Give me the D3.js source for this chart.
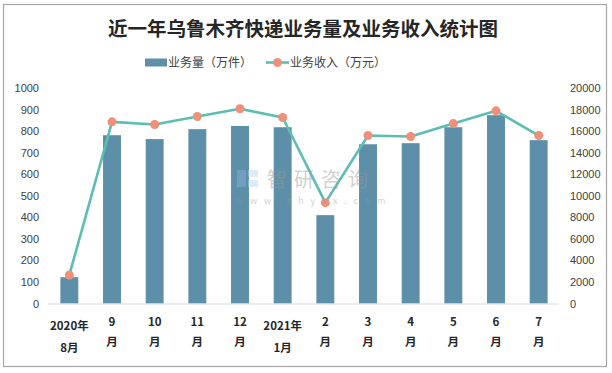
<!DOCTYPE html>
<html lang="zh">
<head>
<meta charset="UTF-8">
<script src="https://cdn.jsdelivr.net/npm/d3@7"></script>
<style>
    body { margin: 0; background: #fff; }
    svg { display: block; font-family: "Noto Sans CJK SC", "Noto Sans", sans-serif; }
</style>
</head>
<body>
<div id="chart"></div>
<script>
    // months (two-line labels)
    const months = ["2020年8月", "9月", "10月", "11月", "12月", "2021年1月", "2月", "3月", "4月", "5月", "6月", "7月"];
    const labelLines = [["2020年", "8月"], ["9", "月"], ["10", "月"], ["11", "月"], ["12", "月"], ["2021年", "1月"],
                        ["2", "月"], ["3", "月"], ["4", "月"], ["5", "月"], ["6", "月"], ["7", "月"]];
    // 业务量 (万件)
    const volume = [122, 781, 763, 809, 824, 818, 410, 739, 744, 818, 874, 758];
    // 业务收入 (万元)
    const revenue = [2650, 16860, 16610, 17350, 18070, 17260, 9360, 15590, 15500, 16700, 17880, 15590];
    const leftTicks = d3.range(0, 1001, 100);
    const rightTicks = d3.range(0, 20001, 2000);

    const W = 612, H = 373;
    const barColor = "#5d90a8", lineColor = "#5bbdb3", dotColor = "#ef917a";

    const svg = d3.select("#chart").append("svg")
        .attr("width", W).attr("height", H);

    // outer border
    svg.append("rect")
        .attr("x", 3.5).attr("y", 4.5).attr("width", 603).attr("height", 362)
        .attr("fill", "#fff").attr("stroke", "#a6a6a6").attr("stroke-width", 1.2);

    // title
    svg.append("text")
        .attr("x", 303).attr("y", 36)
        .attr("text-anchor", "middle")
        .attr("font-size", 19.5).attr("font-weight", "bold").attr("fill", "#262626")
        .text("近一年乌鲁木齐快递业务量及业务收入统计图");

    // scales
    const x = d3.scaleBand().domain(months).range([48, 560]).paddingInner(0.58).paddingOuter(0.29);
    const yL = d3.scaleLinear().domain([0, 1000]).range([303.5, 88]);
    const yR = d3.scaleLinear().domain([0, 20000]).range([303.5, 88]);

    // left axis
    const axL = svg.append("g").attr("transform", "translate(39,0)")
        .call(d3.axisLeft(yL).tickValues(leftTicks).tickFormat(d3.format("d")).tickSize(0).tickPadding(0));
    axL.select(".domain").remove();
    axL.selectAll("text").attr("font-family", "Liberation Sans, Arial, sans-serif")
        .attr("font-size", 11).attr("fill", "#404040");

    // right axis
    const axR = svg.append("g").attr("transform", "translate(570,0)")
        .call(d3.axisRight(yR).tickValues(rightTicks).tickFormat(d3.format("d")).tickSize(0).tickPadding(0));
    axR.select(".domain").remove();
    axR.selectAll("text").attr("font-family", "Liberation Sans, Arial, sans-serif")
        .attr("font-size", 11).attr("fill", "#404040");

    // bars
    svg.selectAll("rect.bar").data(volume).enter().append("rect")
        .attr("class", "bar")
        .attr("x", (d, i) => x(months[i]))
        .attr("width", x.bandwidth())
        .attr("y", d => yL(d))
        .attr("height", d => yL(0) - yL(d))
        .attr("fill", barColor);

    // baseline
    svg.append("line")
        .attr("x1", 48).attr("x2", 559).attr("y1", yL(0) + 0.5).attr("y2", yL(0) + 0.5)
        .attr("stroke", "#d9d9d9").attr("stroke-width", 1);

    // revenue line
    const cx = (d, i) => x(months[i]) + x.bandwidth() / 2;
    const line = d3.line().x(cx).y(d => yR(d));
    svg.append("path").datum(revenue)
        .attr("d", line)
        .attr("fill", "none").attr("stroke", lineColor).attr("stroke-width", 2.6)
        .attr("stroke-linejoin", "round");
    svg.selectAll("circle.dot").data(revenue).enter().append("circle")
        .attr("class", "dot")
        .attr("cx", cx).attr("cy", d => yR(d)).attr("r", 4.5)
        .attr("fill", dotColor);

    // watermark (on top of the marks)
    const wm = svg.append("g").attr("opacity", 0.45);
    wm.append("rect").attr("x", 237).attr("y", 170).attr("width", 9).attr("height", 17).attr("fill", "#8fb3d9");
    wm.append("rect").attr("x", 248).attr("y", 170).attr("width", 10).attr("height", 7).attr("fill", "#b8d6f0");
    wm.append("rect").attr("x", 248).attr("y", 180).attr("width", 10).attr("height", 7).attr("fill", "#b8d6f0");
    wm.append("text").attr("x", 267).attr("y", 187).attr("font-size", 20).attr("fill", "#9a9a9a")
        .attr("letter-spacing", 7).text("智研咨询");
    wm.append("text").attr("x", 236).attr("y", 204).attr("font-size", 9).attr("fill", "#9a9a9a")
        .attr("letter-spacing", 6.8).text("www.chyxx.com");

    // x labels
    const xl = svg.append("g").selectAll("g").data(labelLines).enter().append("g")
        .attr("transform", (d, i) => `translate(${cx(null, i)},0)`);
    xl.append("text")
        .attr("text-anchor", "middle").attr("font-size", 11.5).attr("font-weight", "bold").attr("fill", "#262626")
        .attr("y", d => d[0].length > 2 ? 330 : 326)
        .text(d => d[0]);
    xl.append("text")
        .attr("text-anchor", "middle").attr("font-size", 11.5).attr("font-weight", "bold").attr("fill", "#262626")
        .attr("y", d => d[0].length > 2 ? 352 : 346)
        .text(d => d[1]);

    // legend
    const lg = svg.append("g").attr("font-size", 12).attr("fill", "#404040");
    lg.append("rect").attr("x", 145).attr("y", 58.5).attr("width", 22).attr("height", 8).attr("fill", barColor);
    lg.append("text").attr("x", 168).attr("y", 67).text("业务量（万件）");
    lg.append("line").attr("x1", 266).attr("x2", 289).attr("y1", 62.5).attr("y2", 62.5)
        .attr("stroke", lineColor).attr("stroke-width", 2.6);
    lg.append("circle").attr("cx", 277.5).attr("cy", 62.5).attr("r", 4.5).attr("fill", dotColor);
    lg.append("text").attr("x", 290).attr("y", 67).text("业务收入（万元）");
</script>
</body>
</html>
